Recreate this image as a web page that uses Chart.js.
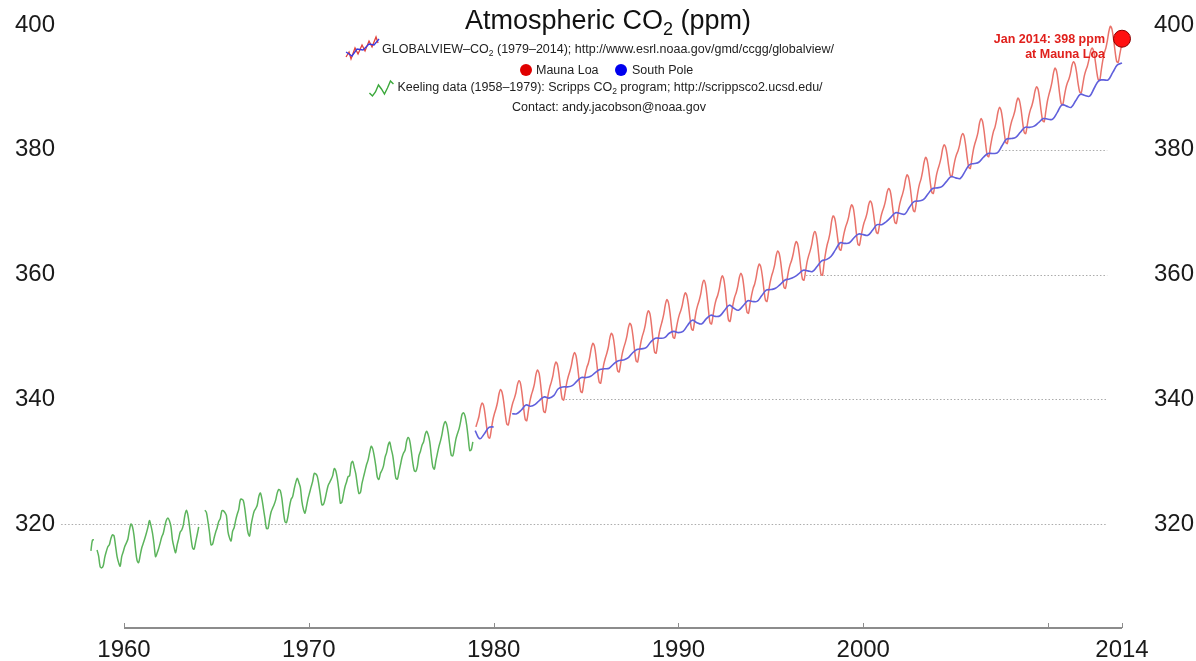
<!DOCTYPE html>
<html lang="en">
<head>
  <meta charset="UTF-8">
  <title>Atmospheric CO2 (ppm)</title>
  <script src="https://cdn.jsdelivr.net/npm/chart.js"></script>
  <style>
    html, body { margin:0; padding:0; background:#fff; }
    #wrap { width:1196px; height:661px; }
  </style>
</head>
<body>
  <div id="wrap"><canvas id="co2" width="1196" height="661"></canvas></div>
  <script>
    // Keeling data, Mauna Loa monthly, Jan 1958 .. Nov 1978 (null = no sample)
    const keelingStart = 1958;
    const keelingPpm = [
      null, null, 315.71, 317.45, 317.50, null, 315.86, 314.93, 313.20, 313.00, 313.33, 314.67,
      315.62, 316.38, 316.71, 317.72, 318.29, 318.15, 316.54, 314.80, 313.84, 313.26, 314.80, 315.58,
      316.43, 316.97, 317.58, 319.02, 320.03, 319.59, 318.18, 315.91, 314.16, 313.83, 315.00, 316.19,
      316.93, 317.70, 318.54, 319.48, 320.58, 319.77, 318.57, 316.79, 314.80, 315.38, 316.10, 317.01,
      317.94, 318.56, 319.68, 320.63, 321.01, 320.55, 319.58, 317.40, 316.26, 315.42, 316.69, 317.69,
      318.74, 319.08, 319.86, 321.39, 322.25, 321.47, 319.74, 317.77, 316.21, 315.99, 317.12, 318.31,
      319.57, null, null, null, 322.24, 321.89, 320.44, 318.70, 316.70, 316.79, 317.79, 318.71,
      319.44, 320.44, 320.89, 322.13, 322.16, 321.87, 321.39, 318.80, 317.81, 317.30, 318.87, 319.42,
      320.62, 321.59, 322.39, 323.87, 324.01, 323.75, 322.39, 320.37, 318.64, 318.10, 319.79, 321.08,
      322.07, 322.50, 323.04, 324.42, 325.00, 324.09, 322.55, 320.92, 319.31, 319.31, 320.72, 321.96,
      322.57, 323.15, 323.89, 325.02, 325.57, 325.36, 324.14, 322.03, 320.41, 320.25, 321.31, 322.84,
      324.00, 324.42, 325.64, 326.66, 327.38, 326.70, 325.89, 323.67, 322.38, 321.78, 322.85, 324.11,
      325.03, 325.99, 326.87, 328.13, 328.07, 327.66, 326.35, 324.69, 323.10, 323.16, 323.98, 325.13,
      326.17, 326.68, 327.18, 327.78, 328.92, 328.57, 327.34, 325.46, 323.36, 323.57, 324.80, 326.01,
      326.77, 327.63, 327.75, 329.72, 330.07, 329.09, 328.05, 326.32, 324.93, 325.06, 326.50, 327.55,
      328.54, 329.56, 330.30, 331.50, 332.48, 332.07, 330.87, 329.31, 327.51, 327.18, 328.16, 328.64,
      329.35, 330.71, 331.48, 332.65, 333.16, 332.06, 330.99, 329.17, 327.41, 327.20, 328.33, 329.50,
      330.68, 331.41, 331.85, 333.29, 333.91, 333.40, 331.78, 329.88, 328.57, 328.46, 329.26, 330.97,
      331.70, 332.66, 333.17, 334.34, 334.88, 334.35, 333.25, 331.04, 329.23, 328.82, 330.17, 331.34,
      332.47, 333.36, 334.45, 335.80, 336.44, 335.99, 334.66, 332.71, 331.03, 330.96, 332.20, 333.64,
      334.50, 335.24, 336.35, 337.61, 337.86, 337.27, 335.87, 333.84, 331.79, 331.95, 333.19
    ];

    // GLOBALVIEW-CO2 Mauna Loa, monthly, Jan 1979 .. Jan 2014
    const maunaLoaStart = 1979;
    const maunaLoaPpm = [
      335.6, 336.4, 337.3, 338.7, 339.4, 339.0, 337.5, 335.5, 334.0, 333.8, 335.2, 336.7,
      337.7, 338.5, 339.5, 340.9, 341.6, 341.1, 339.7, 337.7, 336.1, 335.9, 337.2, 338.5,
      339.5, 340.2, 341.1, 342.4, 343.0, 342.5, 340.8, 338.6, 336.8, 336.6, 338.1, 339.6,
      340.7, 341.5, 342.5, 344.0, 344.7, 344.2, 342.4, 340.0, 338.1, 337.9, 339.4, 340.9,
      342.0, 342.8, 343.8, 345.3, 346.0, 345.5, 343.9, 341.8, 340.1, 339.9, 341.3, 342.7,
      343.7, 344.5, 345.5, 346.8, 347.5, 347.0, 345.3, 343.1, 341.3, 341.1, 342.6, 344.0,
      345.1, 345.8, 346.9, 348.3, 349.0, 348.5, 346.8, 344.6, 342.8, 342.6, 344.1, 345.6,
      346.6, 347.4, 348.4, 349.9, 350.6, 350.1, 348.5, 346.3, 344.6, 344.4, 345.8, 347.3,
      348.3, 349.1, 350.1, 351.5, 352.2, 351.7, 350.1, 347.9, 346.2, 346.0, 347.5, 349.0,
      350.1, 350.9, 352.0, 353.5, 354.2, 353.7, 351.9, 349.5, 347.6, 347.4, 349.0, 350.6,
      351.7, 352.6, 353.7, 355.2, 356.0, 355.5, 353.9, 351.7, 350.0, 349.8, 351.2, 352.5,
      353.5, 354.2, 355.1, 356.4, 357.1, 356.6, 355.1, 353.0, 351.3, 351.1, 352.6, 354.1,
      355.1, 355.9, 356.9, 358.4, 359.1, 358.5, 356.7, 354.3, 352.3, 352.1, 353.5, 355.0,
      356.0, 356.7, 357.7, 359.1, 359.8, 359.2, 357.3, 354.8, 352.7, 352.5, 353.9, 355.3,
      356.4, 357.1, 358.1, 359.5, 360.2, 359.7, 358.0, 355.8, 354.0, 353.8, 355.3, 356.7,
      357.8, 358.5, 359.6, 361.0, 361.7, 361.2, 359.7, 357.6, 355.9, 355.7, 357.2, 358.7,
      359.8, 360.6, 361.6, 363.1, 363.8, 363.3, 361.8, 359.7, 358.0, 357.8, 359.2, 360.6,
      361.6, 362.3, 363.3, 364.6, 365.3, 364.8, 363.2, 361.0, 359.3, 359.1, 360.5, 362.0,
      363.0, 363.8, 364.8, 366.2, 366.9, 366.3, 364.5, 362.1, 360.1, 359.9, 361.7, 363.4,
      364.7, 365.6, 366.8, 368.6, 369.4, 369.0, 367.5, 365.6, 364.1, 363.9, 365.3, 366.6,
      367.6, 368.3, 369.2, 370.5, 371.2, 370.7, 369.0, 366.7, 364.9, 364.7, 366.0, 367.3,
      368.3, 369.0, 369.9, 371.2, 371.8, 371.4, 370.0, 368.2, 366.8, 366.6, 367.9, 369.3,
      370.2, 370.9, 371.9, 373.2, 373.8, 373.4, 371.9, 369.9, 368.4, 368.2, 369.6, 371.1,
      372.1, 372.9, 373.9, 375.3, 376.0, 375.5, 374.0, 371.9, 370.3, 370.1, 371.7, 373.3,
      374.5, 375.3, 376.5, 378.0, 378.8, 378.3, 376.8, 374.8, 373.2, 373.0, 374.4, 375.9,
      376.9, 377.7, 378.7, 380.1, 380.8, 380.4, 379.1, 377.3, 375.9, 375.7, 377.0, 378.3,
      379.2, 379.8, 380.7, 382.0, 382.6, 382.2, 380.7, 378.7, 377.2, 377.0, 378.5, 380.0,
      381.0, 381.8, 382.8, 384.3, 385.0, 384.5, 382.9, 380.8, 379.1, 378.9, 380.4, 381.8,
      382.9, 383.6, 384.7, 386.1, 386.8, 386.3, 384.8, 382.8, 381.2, 381.0, 382.4, 383.7,
      384.7, 385.4, 386.3, 387.6, 388.3, 387.8, 386.4, 384.4, 382.8, 382.6, 384.0, 385.4,
      386.4, 387.1, 388.1, 389.4, 390.1, 389.7, 388.2, 386.2, 384.7, 384.5, 386.1, 387.7,
      388.8, 389.7, 390.8, 392.3, 393.1, 392.6, 391.1, 389.0, 387.4, 387.2, 388.5, 389.8,
      390.7, 391.3, 392.2, 393.5, 394.1, 393.7, 392.4, 390.6, 389.3, 389.1, 390.4, 391.8,
      392.7, 393.4, 394.4, 395.7, 396.3, 395.9, 394.5, 392.7, 391.3, 391.1, 392.7, 394.3,
      395.5, 396.3, 397.5, 399.0, 399.8, 399.3, 397.8, 395.8, 394.2, 394.0, 395.2, 396.5,
      397.6
    ];

    // GLOBALVIEW-CO2 South Pole, quarterly (Jan/Apr/Jul/Oct), 1979 .. 2014
    const southPoleStart = 1979;
    const southPolePpm = [
      335.0, 333.7, 334.5, 335.5,
      335.6, null, null, null,
      337.7, 337.7, 338.3, 339.1,
      338.9, 339.2, 339.9, 340.4,
      340.2, 340.6, 341.7, 342.0,
      342.0, 342.2, 342.9, 343.5,
      343.5, 343.7, 344.3, 344.8,
      344.9, 345.0, 345.7, 346.2,
      346.3, 346.6, 347.4, 348.0,
      348.1, 348.3, 349.2, 349.8,
      349.8, 349.9, 350.6, 350.9,
      350.7, 350.9, 351.9, 352.7,
      352.3, 352.1, 352.9, 353.5,
      353.3, 353.4, 354.3, 355.1,
      354.6, 354.3, 355.0, 355.8,
      355.7, 355.7, 356.6, 357.5,
      357.6, 357.8, 358.4, 359.1,
      359.3, 359.6, 360.1, 360.7,
      360.6, 360.5, 361.3, 362.2,
      362.4, 362.9, 364.0, 365.1,
      365.0, 365.1, 365.9, 366.5,
      366.4, 366.3, 367.1, 368.0,
      368.0, 368.5, 369.2, 369.9,
      369.8, 369.7, 370.8, 371.7,
      371.8, 372.0, 372.9, 373.8,
      373.9, 374.1, 374.9, 375.7,
      375.5, 375.4, 376.5, 377.6,
      377.8, 378.0, 378.8, 379.4,
      379.4, 379.5, 380.6, 381.7,
      381.8, 382.0, 382.8, 383.6,
      383.6, 383.8, 384.4, 385.0,
      384.9, 384.9, 386.0, 387.2,
      387.0, 386.8, 387.9, 388.9,
      388.7, 388.6, 389.9, 391.1,
      391.2, 391.2, 392.4, 393.6,
      393.9
    ];

    const latestYear = 2014.0;
    const latestPpm = 397.8;

    const xTickValues = [1960, 1970, 1980, 1990, 2000, 2010, 2014];
    const xTickLabels = ['1960', '1970', '1980', '1990', '2000', '', '2014'];
    const yTickValues = [320, 340, 360, 380, 400];
    const yTickLabels = ['320', '340', '360', '380', '400'];

    // dotted reference lines: value, year where each one starts
    const gridValues = [320, 340, 360, 380];
    const gridFromYear = [1956.6, 1983.7, 1996.9, 2007.5];
    const gridToYear = 2013.2;

    const FONT = '"Liberation Sans", Arial, Helvetica, sans-serif';
    Chart.defaults.font.family = FONT;

    function monthly(start, values) {
      return values.map((v, i) => ({ x: start + (i + 0.5) / 12, y: v }));
    }
    function quarterly(start, values) {
      return values.map((v, i) => ({ x: start + i / 4, y: v }));
    }

    function textRun(ctx, parts, x, y, align) {
      // parts: [text, size, dy, weight]
      const font = p => (p[3] || '') + ' ' + p[1] + 'px ' + FONT;
      let w = 0;
      parts.forEach(p => { ctx.font = font(p); w += ctx.measureText(p[0]).width; });
      let cx = align === 'center' ? x - w / 2 : (align === 'right' ? x - w : x);
      const left = cx;
      parts.forEach(p => {
        ctx.font = font(p);
        ctx.fillText(p[0], cx, y + (p[2] || 0));
        cx += ctx.measureText(p[0]).width;
      });
      return left;
    }

    function polyline(ctx, pts, ox, oy, color) {
      ctx.beginPath();
      pts.forEach((p, i) => i ? ctx.lineTo(ox + p[0], oy + p[1]) : ctx.moveTo(ox + p[0], oy + p[1]));
      ctx.strokeStyle = color;
      ctx.stroke();
    }

    const backdrop = {
      id: 'backdrop',
      beforeDatasetsDraw(chart) {
        const { ctx } = chart;
        const xs = chart.scales.x, ys = chart.scales.y;
        ctx.save();
        ctx.strokeStyle = '#ababab';
        ctx.lineWidth = 1;
        ctx.setLineDash([1.5, 2]);
        gridValues.forEach((v, i) => {
          const py = Math.round(ys.getPixelForValue(v)) + 0.5;
          ctx.beginPath();
          ctx.moveTo(xs.getPixelForValue(gridFromYear[i]), py);
          ctx.lineTo(xs.getPixelForValue(gridToYear), py);
          ctx.stroke();
        });
        ctx.setLineDash([]);
        // bottom axis only between first and last tick, ticks pointing up
        const by = chart.chartArea.bottom;
        ctx.strokeStyle = '#8c8c8c';
        ctx.lineWidth = 2;
        ctx.beginPath();
        ctx.moveTo(xs.getPixelForValue(xTickValues[0]), by);
        ctx.lineTo(xs.getPixelForValue(xTickValues[xTickValues.length - 1]), by);
        ctx.stroke();
        ctx.lineWidth = 1;
        xTickValues.forEach(v => {
          const px = Math.round(xs.getPixelForValue(v)) + 0.5;
          ctx.beginPath();
          ctx.moveTo(px, by);
          ctx.lineTo(px, by - 5);
          ctx.stroke();
        });
        ctx.restore();
      },
      afterDraw(chart) {
        const { ctx } = chart;
        ctx.save();
        ctx.textBaseline = 'alphabetic';
        ctx.fillStyle = '#111';
        textRun(ctx, [['Atmospheric CO', 27], ['2', 18, 6], [' (ppm)', 27]], 608, 29, 'center');

        ctx.fillStyle = '#222';
        const l1 = textRun(ctx, [['GLOBALVIEW\u2013CO', 12.5], ['2', 8.5, 3], [' (1979\u20132014); http://www.esrl.noaa.gov/gmd/ccgg/globalview/', 12.5]], 608, 53, 'center');
        ctx.lineWidth = 1.3;
        polyline(ctx, [[0, 20], [3, 15], [5, 22], [9, 11], [12, 17], [16, 8], [19, 14], [23, 4], [26, 10], [30, 0], [32, 6]], l1 - 36, 37, '#e0403a');
        polyline(ctx, [[0, 15], [6, 19], [11, 12], [17, 13], [23, 7], [28, 8], [33, 2]], l1 - 36, 37, '#3a3ae0');

        ctx.fillStyle = '#e00000';
        ctx.beginPath(); ctx.arc(526, 70, 6, 0, Math.PI * 2); ctx.fill();
        ctx.fillStyle = '#0000ee';
        ctx.beginPath(); ctx.arc(621, 70, 6, 0, Math.PI * 2); ctx.fill();
        ctx.fillStyle = '#222';
        textRun(ctx, [['Mauna Loa', 12.5]], 536, 74, 'left');
        textRun(ctx, [['South Pole', 12.5]], 632, 74, 'left');

        const l3 = textRun(ctx, [['Keeling data (1958\u20131979): Scripps CO', 12.5], ['2', 8.5, 3], [' program; http://scrippsco2.ucsd.edu/', 12.5]], 610, 91, 'center');
        ctx.lineWidth = 1.4;
        polyline(ctx, [[0, 13], [3, 16], [6, 12], [9, 5], [12, 9], [15, 14], [18, 8], [21, 1], [24, 4]], l3 - 28, 80, '#3aa83a');

        textRun(ctx, [['Contact: andy.jacobson@noaa.gov', 12.5]], 609, 111, 'center');

        ctx.fillStyle = '#e0201c';
        textRun(ctx, [['Jan 2014: 398 ppm', 12.5, 0, 'bold']], 1105, 43, 'right');
        textRun(ctx, [['at Mauna Loa', 12.5, 0, 'bold']], 1105, 58, 'right');
        ctx.restore();
      }
    };

    function yAxis(position, width, pad) {
      return {
        type: 'linear',
        position,
        min: 303.365,
        max: 404.006,
        grid: { display: false, drawTicks: false },
        border: { display: false },
        afterBuildTicks: axis => { axis.ticks = yTickValues.map(v => ({ value: v })); },
        afterFit: axis => { axis.width = width; axis.paddingTop = 0; axis.paddingBottom = 0; },
        ticks: {
          padding: pad,
          color: '#1a1a1a',
          font: { size: 24 },
          callback: v => yTickLabels[yTickValues.indexOf(v)]
        }
      };
    }

    new Chart(document.getElementById('co2'), {
      type: 'line',
      data: {
        datasets: [
          {
            label: 'Jan 2014 at Mauna Loa',
            data: [{ x: latestYear, y: latestPpm }],
            showLine: false,
            pointRadius: 8.5,
            backgroundColor: '#ff1010',
            borderColor: '#8a0000',
            borderWidth: 1,
            order: 0
          },
          {
            label: 'South Pole',
            data: quarterly(southPoleStart, southPolePpm),
            borderColor: '#6060dc',
            borderWidth: 1.6,
            pointRadius: 0,
            tension: 0.4,
            spanGaps: false,
            order: 1
          },
          {
            label: 'Mauna Loa',
            data: monthly(maunaLoaStart, maunaLoaPpm),
            borderColor: '#e9736b',
            borderWidth: 1.5,
            pointRadius: 0,
            tension: 0.3,
            order: 2
          },
          {
            label: 'Keeling data',
            data: monthly(keelingStart, keelingPpm),
            borderColor: '#5cb45c',
            borderWidth: 1.5,
            pointRadius: 0,
            tension: 0.3,
            spanGaps: false,
            order: 3
          }
        ]
      },
      options: {
        responsive: false,
        devicePixelRatio: 1,
        animation: false,
        layout: { padding: 0, autoPadding: false },
        plugins: {
          legend: { display: false },
          title: { display: false },
          tooltip: { enabled: false }
        },
        scales: {
          x: {
            type: 'linear',
            min: 1956.645,
            max: 2014.974,
            grid: { display: false, drawTicks: false },
            border: { display: false },
            afterBuildTicks: axis => { axis.ticks = xTickValues.map(v => ({ value: v })); },
            afterFit: axis => { axis.height = 33; axis.paddingLeft = 0; axis.paddingRight = 0; },
            ticks: {
              padding: 8,
              autoSkip: false,
              maxRotation: 0,
              color: '#1a1a1a',
              font: { size: 24 },
              callback: v => xTickLabels[xTickValues.indexOf(v)]
            }
          },
          y: yAxis('left', 62, 7),
          y2: yAxis('right', 56, 14)
        }
      },
      plugins: [backdrop]
    });
  </script>
</body>
</html>
